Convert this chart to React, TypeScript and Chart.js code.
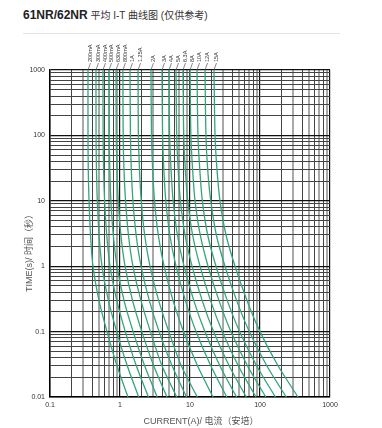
import React, { useEffect, useRef } from 'react';
import { Chart, registerables } from 'chart.js';
Chart.register(...registerables);

// Time points (s) at which each curve's current is read
const times = [1000, 100, 30, 10, 3, 1, 0.3, 0.1, 0.03, 0.01];

const curveLabels = ['200mA', '300mA', '400mA', '500mA', '630mA', '800mA', '1A', '1.25A', '2A', '3A', '4A', '5A', '6.3A', '8A', '10A', '12A', '15A'];

// Current (A) for each curve at the times above
const c200mA = [0.349, 0.349, 0.352, 0.361, 0.379, 0.411, 0.501, 0.652, 0.906, 1.30];
const c300mA = [0.454, 0.455, 0.461, 0.474, 0.502, 0.553, 0.683, 0.897, 1.27, 1.85];
const c400mA = [0.571, 0.574, 0.583, 0.603, 0.646, 0.720, 0.899, 1.19, 1.71, 2.55];
const c500mA = [0.697, 0.701, 0.715, 0.741, 0.802, 0.906, 1.14, 1.54, 2.25, 3.40];
const c630mA = [0.877, 0.884, 0.905, 0.944, 1.03, 1.18, 1.51, 2.05, 3.03, 4.69];
const c800mA = [1.10, 1.11, 1.14, 1.20, 1.32, 1.53, 1.99, 2.72, 3.98, 6.47];
const c1A = [1.39, 1.41, 1.45, 1.53, 1.70, 2.00, 2.62, 3.62, 5.55, 8.91];
const c1_25A = [1.81, 1.83, 1.90, 2.01, 2.25, 2.68, 3.56, 4.98, 7.51, 12.7];
const c2A = [2.77, 2.82, 2.93, 3.11, 3.52, 4.26, 5.71, 8.07, 12.8, 21.3];
const c3A = [3.98, 4.06, 4.23, 4.51, 5.15, 6.31, 8.59, 12.2, 19.8, 33.5];
const c4A = [5.01, 5.11, 5.36, 5.74, 6.61, 8.21, 11.3, 16.3, 26.7, 46.2];
const c5A = [6.31, 6.46, 6.78, 7.29, 8.49, 10.7, 14.9, 21.7, 36.2, 63.6];
const c6_3A = [7.94, 8.14, 8.57, 9.29, 10.9, 13.9, 19.6, 28.9, 48.9, 87.7];
const c8A = [10.0, 10.3, 10.9, 11.8, 14.0, 18.1, 25.9, 38.4, 66.1, 121];
const c10A = [12.6, 13.0, 13.8, 15.0, 17.9, 23.5, 34.0, 51.1, 89.4, 166];
const c12A = [16.4, 16.9, 17.9, 19.8, 23.8, 31.6, 46.3, 70.3, 125, 237];
const c15A = [22.0, 22.8, 24.3, 26.8, 32.7, 44.0, 65.2, 100, 181, 349];

const curves = [c200mA, c300mA, c400mA, c500mA, c630mA, c800mA, c1A, c1_25A, c2A, c3A, c4A, c5A, c6_3A, c8A, c10A, c12A, c15A];

const xTickLabels = ['0.1', '1', '10', '100', '1000'];
const yTickLabels = ['0.01', '0.1', '1', '10', '100', '1000'];

const FONT = '"Liberation Sans", Arial, "Noto Sans CJK SC", sans-serif';

function gridValues(min: number, max: number) {
  const out: number[] = [];
  for (let d = min; d < max * 0.999; d *= 10) {
    for (let m = 1; m <= 9; m++) out.push(m * d);
  }
  out.push(max);
  return out;
}

function mantissa(v: number) {
  const e = Math.floor(Math.log10(v) + 1e-9);
  return Math.round(v / Math.pow(10, e));
}

function labelFor(list: string[], v: number) {
  const f = list.find((s) => Math.abs(Number(s) - v) / v < 1e-6);
  return f ?? '';
}

const gridColor = (isX: boolean) => (ctx: any) => {
  const v = ctx.tick?.value;
  if (!v) return '#444';
  const m = mantissa(v);
  if (m === 1) return '#111';
  if (isX && (m === 3 || m === 5 || m === 7 || m === 9)) return '#a9a9a9';
  return '#444';
};
const gridWidth = (isX: boolean) => (ctx: any) => {
  const v = ctx.tick?.value;
  if (!v) return 1;
  const m = mantissa(v);
  if (m === 1) return 1.2;
  if (isX && (m === 3 || m === 5 || m === 7 || m === 9)) return 2;
  return 1;
};

const annotPlugin = {
  id: 'annot',
  afterDraw(chart: any) {
    const { ctx, chartArea, scales } = chart;
    const x = scales.x;
    ctx.save();
    ctx.font = `5.5px ${FONT}`;
    chart.data.datasets.forEach((ds: any) => {
      const cx = x.getPixelForValue(ds.data[0].x);
      const lx = cx + 2.5;
      ctx.strokeStyle = '#555';
      ctx.lineWidth = 0.7;
      ctx.beginPath();
      ctx.moveTo(lx, chartArea.top - 7);
      ctx.lineTo(cx, chartArea.top);
      ctx.stroke();
      ctx.save();
      ctx.translate(lx, chartArea.top - 8);
      ctx.rotate(-Math.PI / 2);
      ctx.fillStyle = '#333';
      ctx.textAlign = 'left';
      ctx.textBaseline = 'middle';
      ctx.fillText(ds.label, 0, 0);
      ctx.restore();
    });
    ctx.font = `9px ${FONT}`;
    ctx.fillStyle = '#555';
    ctx.textAlign = 'center';
    ctx.textBaseline = 'middle';
    ctx.fillText('CURRENT(A)/ 电流（安培）', chartArea.left + 151, chartArea.bottom + 25);
    ctx.save();
    ctx.translate(chartArea.left - 20, chartArea.top + 181);
    ctx.rotate(-Math.PI / 2);
    ctx.fillText('TIME(s)/ 时间（秒）', 0, 0);
    ctx.restore();
    ctx.restore();
  },
};

export default function App() {
  const ref = useRef<HTMLCanvasElement>(null);
  useEffect(() => {
    if (!ref.current) return;
    const datasets = curves.map((c, i) => ({
      label: curveLabels[i],
      data: c.map((cur, j) => ({ x: cur, y: times[j] })),
      borderColor: '#33a679',
      borderWidth: 1.3,
      pointRadius: 0,
      tension: 0.3,
      fill: false,
    }));
    const chart = new Chart(ref.current, {
      type: 'line',
      data: { datasets },
      plugins: [annotPlugin],
      options: {
        animation: false,
        responsive: false,
        devicePixelRatio: 1,
        layout: { padding: { left: 20, top: 70, right: 52, bottom: 0 } },
        plugins: { legend: { display: false }, tooltip: { enabled: false }, title: { display: false } },
        scales: {
          x: {
            type: 'logarithmic',
            min: 0.1,
            max: 1000,
            afterBuildTicks: (s: any) => {
              s.ticks = gridValues(0.1, 1000).map((v) => ({ value: v }));
            },
            afterFit: (s: any) => {
              s.height = 31;
            },
            ticks: {
              autoSkip: false,
              maxRotation: 0,
              padding: 4,
              color: '#333',
              font: { size: 7, family: FONT },
              callback: (v: any) => labelFor(xTickLabels, Number(v)),
            },
            grid: { drawTicks: false, color: gridColor(true), lineWidth: gridWidth(true) },
            border: { display: true, color: '#000', width: 1.5 },
          },
          y: {
            type: 'logarithmic',
            min: 0.01,
            max: 1000,
            afterBuildTicks: (s: any) => {
              s.ticks = gridValues(0.01, 1000).map((v) => ({ value: v }));
            },
            afterFit: (s: any) => {
              s.width = 30;
            },
            ticks: {
              autoSkip: false,
              padding: 5,
              color: '#333',
              font: { size: 7, family: FONT },
              callback: (v: any) => labelFor(yTickLabels, Number(v)),
            },
            grid: { drawTicks: false, color: gridColor(false), lineWidth: gridWidth(false) },
            border: { display: true, color: '#000', width: 1.5 },
          },
        },
      } as any,
    });
    return () => chart.destroy();
  }, []);

  return (
    <div style={{ position: 'absolute', left: 0, top: 0, width: 382, height: 428, background: '#fff', fontFamily: FONT }}>
      <div style={{ position: 'absolute', left: 23, top: 8, whiteSpace: 'nowrap', color: '#333', fontSize: 10, lineHeight: '14px' }}>
        <span style={{ fontWeight: 'bold', fontSize: 12, color: '#222' }}>61NR/62NR</span> 平均 I-T 曲线图 (仅供参考)
      </div>
      <div style={{ position: 'absolute', left: 23, top: 33, width: 317, height: 1, background: '#e4e4e4' }} />
      <canvas ref={ref} width={382} height={428} style={{ position: 'absolute', left: 0, top: 0, width: 382, height: 428 }} />
    </div>
  );
}
